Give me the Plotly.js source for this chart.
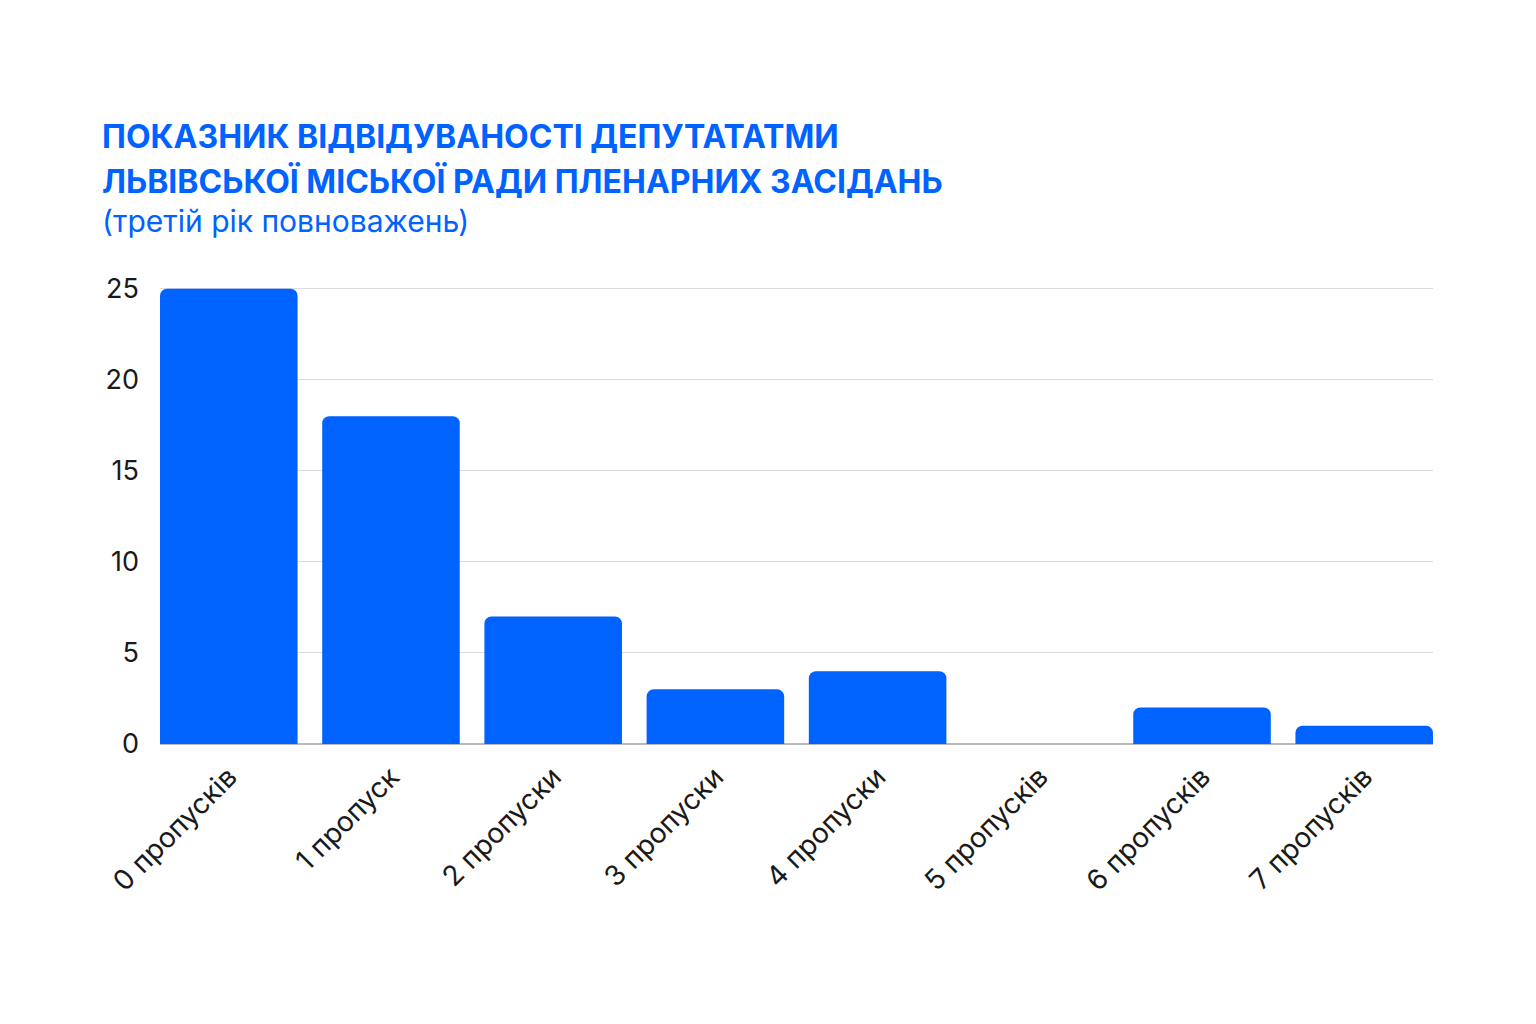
<!DOCTYPE html>
<html>
<head>
<meta charset="utf-8">
<script src="https://cdn.plot.ly/plotly-3.0.1.min.js"></script>
<style>
  html, body { margin: 0; padding: 0; background: #fff; }
  #chart { width: 1536px; height: 1024px; }
</style>
</head>
<body>
<div id="chart"></div>
<script>
const categories = ['0 пропусків', '1 пропуск', '2 пропуски', '3 пропуски', '4 пропуски', '5 пропусків', '6 пропусків', '7 пропусків'];
const deputies = [25, 18, 7, 3, 4, 0, 2, 1];
const yTicks = [0, 5, 10, 15, 20, 25];

const blue = '#0062ff';
const font = 'Inter, "Noto Sans", "DejaVu Sans", sans-serif';
const gap = 0.152;

const data = [{
    type: 'bar',
    x: categories,
    y: deputies,
    marker: { color: blue, cornerradius: 7 },
    hoverinfo: 'x+y'
}];

const layout = {
    width: 1536,
    height: 1024,
    margin: { l: 160, r: 103, t: 285, b: 280 },
    paper_bgcolor: '#fff',
    plot_bgcolor: '#fff',
    bargap: gap,
    showlegend: false,
    font: { family: font, color: '#1a1a1a' },
    xaxis: {
        range: [-0.5 + gap / 2, categories.length - 0.5 - gap / 2],
        tickangle: -45,
        tickfont: { size: 28, color: '#1a1a1a' },
        showgrid: false,
        ticks: '',
        ticklabelstandoff: 10,
        automargin: false
    },
    yaxis: {
        range: [0, 25.2],
        tickvals: yTicks,
        tickfont: { size: 27, color: '#1a1a1a' },
        gridcolor: '#dcdcdc',
        gridwidth: 1,
        zeroline: true,
        zerolinecolor: '#b8b8b8',
        zerolinewidth: 2,
        ticks: '',
        ticklabelstandoff: 20,
        automargin: false
    },
    annotations: [
        {
            text: '<b>ПОКАЗНИК ВІДВІДУВАНОСТІ ДЕПУТАТАТМИ</b>',
            xref: 'paper', yref: 'paper', x: -0.047, y: 1.323,
            xanchor: 'left', yanchor: 'middle', showarrow: false,
            font: { size: 32, color: blue, family: font }
        },
        {
            text: '<b>ЛЬВІВСЬКОЇ МІСЬКОЇ РАДИ ПЛЕНАРНИХ ЗАСІДАНЬ</b>',
            xref: 'paper', yref: 'paper', x: -0.047, y: 1.225,
            xanchor: 'left', yanchor: 'middle', showarrow: false,
            font: { size: 32, color: blue, family: font }
        },
        {
            text: '(третій рік повноважень)',
            xref: 'paper', yref: 'paper', x: -0.047, y: 1.139,
            xanchor: 'left', yanchor: 'middle', showarrow: false,
            font: { size: 30, color: blue, family: font }
        }
    ]
};

Plotly.newPlot('chart', data, layout, { displayModeBar: false, staticPlot: true });
</script>
</body>
</html>
